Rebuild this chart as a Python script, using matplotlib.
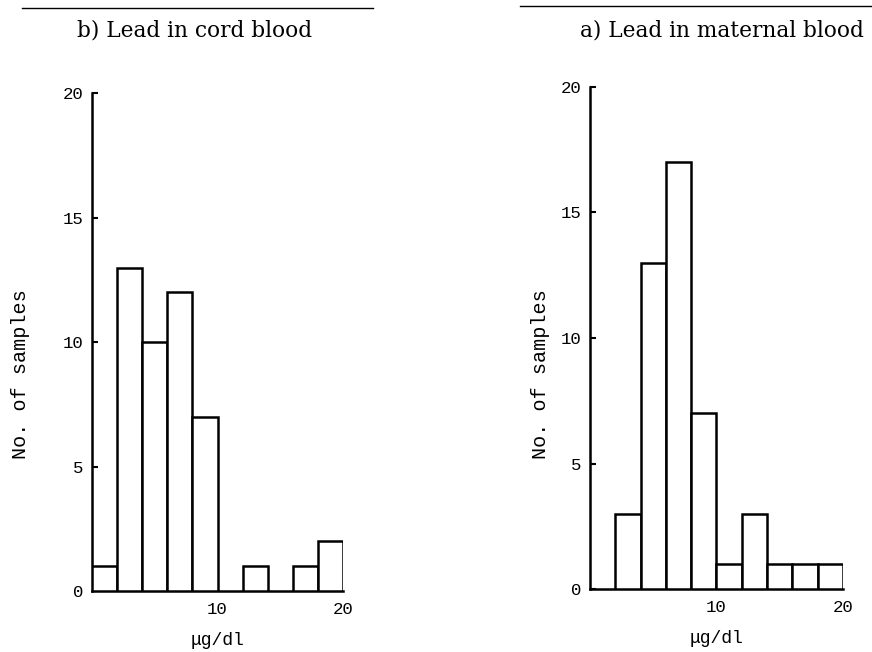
import matplotlib
matplotlib.use("Agg")
import matplotlib.pyplot as plt
from matplotlib.lines import Line2D

bin_edges = [0, 2, 4, 6, 8, 10, 12, 14, 16, 18, 20]
cord_counts = [1, 13, 10, 12, 7, 0, 1, 0, 1, 2]
maternal_counts = [0, 3, 13, 17, 7, 1, 3, 1, 1, 1]
yticks = [0, 5, 10, 15, 20]
xticks = [10, 20]
titles = ["b) Lead in cord blood", "a) Lead in maternal blood"]
ylabel = "No. of samples"
xlabel = "\u03bcg/dl"

mono = ["Liberation Mono", "DejaVu Sans Mono"]
serif = ["DejaVu Serif", "Liberation Serif"]

fig = plt.figure(figsize=(8.72, 6.52), dpi=100)
ax1 = fig.add_axes([0.1055, 0.0936, 0.288, 0.763])
ax2 = fig.add_axes([0.6766, 0.0966, 0.290, 0.770])

lw = 1.8
for ax, counts, ylab_x in [(ax1, cord_counts, 20), (ax2, maternal_counts, 540)]:
    lefts = bin_edges[:-1]
    widths = [bin_edges[i + 1] - bin_edges[i] for i in range(len(lefts))]
    for l, w, c in zip(lefts, widths, counts):
        if c > 0:
            ax.bar(l, c, width=w, align="edge", facecolor="white",
                   edgecolor="black", linewidth=lw, zorder=3)
    ax.set_xlim(0, 20)
    ax.set_ylim(0, 20)
    for s in ["top", "right"]:
        ax.spines[s].set_visible(False)
    ax.spines["left"].set_linewidth(lw)
    ax.spines["bottom"].set_linewidth(lw)
    ax.set_yticks(yticks)
    ax.set_xticks(xticks)
    ax.tick_params(axis="y", direction="in", length=4, width=1.5, pad=6,
                   labelsize=12.5)
    ax.tick_params(axis="x", length=0, pad=8, labelsize=12.5)
    for lab in ax.get_yticklabels() + ax.get_xticklabels():
        lab.set_family(mono)
    ax.set_xlabel(xlabel, family=mono, fontsize=13, labelpad=11)
    fig.text(ylab_x / 872, 1 - 374 / 652, ylabel, family=mono, fontsize=14.5,
             rotation=90, ha="center", va="center")

fig.text(195 / 872, 1 - 31 / 652, titles[0], family=serif, fontsize=15.6,
         ha="center", va="center")
fig.text(722 / 872, 1 - 31 / 652, titles[1], family=serif, fontsize=15.6,
         ha="center", va="center")

fig.add_artist(Line2D([22 / 872, 373 / 872], [1 - 8 / 652, 1 - 8 / 652],
                      color="black", lw=1.0, transform=fig.transFigure))
fig.add_artist(Line2D([520 / 872, 872 / 872], [1 - 6 / 652, 1 - 6 / 652],
                      color="black", lw=1.0, transform=fig.transFigure))

fig.savefig("out.png", dpi=100, facecolor="white")
